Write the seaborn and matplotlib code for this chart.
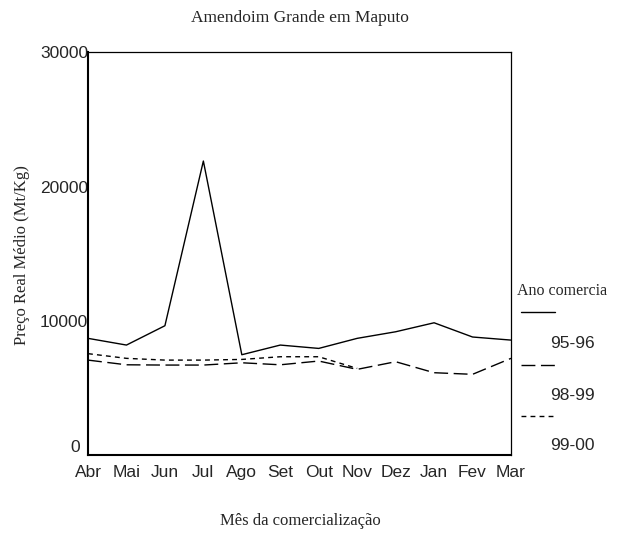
import matplotlib
matplotlib.use("Agg")
import numpy as np
import pandas as pd
import matplotlib.pyplot as plt
import seaborn as sns
from matplotlib.lines import Line2D
from matplotlib.transforms import ScaledTranslation

# Dados (preço real médio, Mt/Kg)
meses = ["Abr", "Mai", "Jun", "Jul", "Ago", "Set", "Out", "Nov", "Dez", "Jan", "Fev", "Mar"]
anos = ["95-96", "98-99", "99-00"]
preco_95_96 = [8690, 8190, 9630, 21900, 7470, 8190, 7940, 8690, 9180, 9850, 8790, 8560]
preco_98_99 = [7070, 6720, 6700, 6700, 6870, 6720, 7000, 6380, 6950, 6130, 6010, 7200]
preco_99_00 = [7550, 7200, 7070, 7070, 7120, 7320, 7320, 6450, np.nan, np.nan, np.nan, np.nan]
y_ticks = [0, 10000, 20000, 30000]

df = pd.DataFrame({
    "mes": meses * 3,
    "ano": np.repeat(anos, len(meses)),
    "preco": preco_95_96 + preco_98_99 + preco_99_00,
})

sns.set_style("white")
serif = "Liberation Serif"
sans = "Liberation Sans"
plt.rcParams["font.family"] = [sans, "DejaVu Sans"]

fig = plt.figure(figsize=(6.23, 5.39), dpi=100)
ax = fig.add_axes([88 / 623, 1 - 455 / 539, (511 - 88) / 623, (455 - 52.3) / 539])

estilos = {"95-96": "", "98-99": (10, 4), "99-00": (3.5, 3)}
sns.lineplot(data=df, x="mes", y="preco", style="ano", dashes=estilos,
             color="black", linewidth=1.0, legend=False, sort=False, ax=ax)

ax.set_xlim(0, len(meses) - 1)
ax.set_ylim(0, 30000)
ax.set_xticks(range(len(meses)))
ax.set_xticklabels(meses, fontsize=12.5, family=sans)
ax.set_yticks(y_ticks)
ax.set_yticklabels([str(v) for v in y_ticks], fontsize=12.5, family=sans)
ax.tick_params(axis="x", direction="out", length=2.5, width=2, pad=5, color="black")
ax.tick_params(axis="y", direction="out", length=2, width=2, pad=-2, color="black")
ax.set_xlabel("")
ax.set_ylabel("")

# o "0" aparece deslocado para cima e para a esquerda
lbl0 = ax.get_yticklabels()[0]
lbl0.set_transform(lbl0.get_transform() + ScaledTranslation(-8 / 100, 9 / 100, fig.dpi_scale_trans))

for lado in ["left", "bottom"]:
    ax.spines[lado].set_linewidth(1.5)
for lado in ["top", "right"]:
    ax.spines[lado].set_linewidth(0.9)
for s in ax.spines.values():
    s.set_color("black")

fig.text(300 / 623, 1 - 18 / 539, "Amendoim Grande em Maputo", family=serif,
         fontsize=12.5, ha="center", va="center")
fig.text(300 / 623, 1 - 521 / 539, "Mês da comercialização", family=serif,
         fontsize=12, ha="center", va="center")
fig.text(22 / 623, 1 - 255 / 539, "Preço Real Médio (Mt/Kg)", family=serif,
         fontsize=12, ha="center", va="center", rotation=90)

# legenda ao estilo SPSS
fig.text(517 / 623, 1 - 291 / 539, "Ano comercia", family=serif, fontsize=11.5,
         ha="left", va="center")
leg_y = [312, 365, 416]
lab_y = [344, 396, 446]
for ano, ly, ty in zip(anos, leg_y, lab_y):
    d = estilos[ano]
    linha = Line2D([521 / 623, 555 / 623], [1 - ly / 539, 1 - ly / 539],
                   transform=fig.transFigure, color="black", linewidth=1.0)
    if d:
        linha.set_dashes(d)
    fig.add_artist(linha)
    fig.text(550 / 623, 1 - ty / 539, ano, family=sans, fontsize=12.5,
             ha="left", va="center")

plt.savefig("out.png", dpi=100)
plt.close()
